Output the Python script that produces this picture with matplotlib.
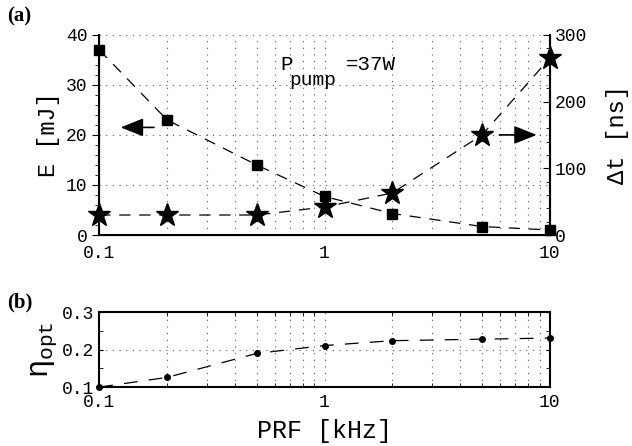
import matplotlib.pyplot as plt
from matplotlib.ticker import MultipleLocator, LogLocator, NullFormatter

mono = "Liberation Mono"
plt.rcParams['font.family'] = mono
plt.rcParams['mathtext.fontset'] = 'custom'
plt.rcParams['mathtext.rm'] = mono
plt.rcParams['mathtext.it'] = mono

prf = [0.1, 0.2, 0.5, 1, 2, 5, 10]
energy = [37, 23, 14, 7.7, 4.3, 1.7, 1.0]
dt = [30, 30, 30, 42, 63, 150, 265]
eta = [0.1, 0.126, 0.19, 0.211, 0.224, 0.228, 0.231]

xticks = [0.1, 1, 10]
xlabels = ["0.1", "1", "10"]

grid_kw = dict(color="#555555", linestyle=(0, (1, 5)), linewidth=0.8)
arrow_kw = dict(arrowstyle="-|>,head_length=1.0,head_width=0.4",
                color="k", lw=1.2, mutation_scale=14)

fig = plt.figure(figsize=(6.32, 4.46), dpi=100)

# ---- panel (a)
ax = fig.add_axes([0.157, 0.473, 0.713, 0.449])
ax.set_xscale("log")
ax.set_xlim(0.1, 10)
ax.set_ylim(0, 40)
ax.plot(prf, energy, linestyle=(0, (9, 7)), color="k", lw=0.9,
        marker="s", ms=7, mfc="k", mec="k", zorder=3, clip_on=False)
ax.set_xticks(xticks)
ax.set_xticklabels(xlabels)
ax.xaxis.set_minor_locator(LogLocator(base=10, subs=range(2, 10)))
ax.xaxis.set_minor_formatter(NullFormatter())
ax.yaxis.set_major_locator(MultipleLocator(10))
ax.yaxis.set_minor_locator(MultipleLocator(2))
ax.tick_params(axis="y", which="major", direction="out", length=5, labelsize=13)
ax.tick_params(axis="y", which="minor", direction="out", length=3)
ax.tick_params(axis="x", which="both", direction="in", length=0, labelsize=13, pad=7)
ax.grid(True, which="major", axis="y", **grid_kw)
ax.grid(True, which="both", axis="x", **grid_kw)
ax.spines["top"].set_visible(False)
for s in ["left", "bottom", "right"]:
    ax.spines[s].set_linewidth(1.5)
ax.set_ylabel("E [mJ]", fontsize=17, labelpad=4)

ax2 = ax.twinx()
ax2.set_ylim(0, 300)
ax2.plot(prf, dt, linestyle=(0, (9, 7)), color="k", lw=0.9,
         marker="*", ms=17, mfc="k", mec="k", zorder=3, clip_on=False)
ax2.yaxis.set_major_locator(MultipleLocator(100))
ax2.yaxis.set_minor_locator(MultipleLocator(20))
ax2.tick_params(axis="y", which="major", direction="in", length=5, labelsize=13)
ax2.tick_params(axis="y", which="minor", direction="in", length=3)
ax2.spines["top"].set_visible(False)
ax2.spines["right"].set_linewidth(1.5)
ax2.set_ylabel("Δt [ns]", fontsize=17, labelpad=14)

# arrows pointing to the axis each curve belongs to
ax.annotate("", xy=(0.121, 21.5), xytext=(0.18, 21.5),
            arrowprops=arrow_kw, zorder=4)
ax2.annotate("", xy=(9.0, 150), xytext=(5.8, 150),
             arrowprops=arrow_kw, zorder=4)

ax.text(0.64, 33.0, "P", fontsize=15)
ax.text(0.70, 30.0, "pump", fontsize=14)
ax.text(1.25, 33.0, "=37W", fontsize=15)

fig.text(0.012, 0.952, "(a)", fontsize=15, fontweight="bold", family="Liberation Serif")

# ---- panel (b)
bx = fig.add_axes([0.157, 0.132, 0.713, 0.168])
bx.set_xscale("log")
bx.set_xlim(0.1, 10)
bx.set_ylim(0.1, 0.3)
bx.plot(prf, eta, linestyle=(0, (11, 9)), color="k", lw=0.9,
        marker="o", ms=4, mfc="k", mec="k", zorder=3, clip_on=False)
bx.set_xticks(xticks)
bx.set_xticklabels(xlabels)
bx.xaxis.set_minor_locator(LogLocator(base=10, subs=range(2, 10)))
bx.xaxis.set_minor_formatter(NullFormatter())
bx.set_yticks([0.1, 0.2, 0.3])
bx.set_yticklabels(["0.1", "0.2", "0.3"])
bx.yaxis.set_minor_locator(MultipleLocator(0.05))
bx.tick_params(axis="both", which="both", direction="in", length=3,
               top=True, right=True, labelsize=13)
bx.tick_params(axis="x", which="major", length=0, pad=5)
bx.grid(True, which="major", axis="y", **grid_kw)
bx.grid(True, which="both", axis="x", **grid_kw)
for s in bx.spines.values():
    s.set_linewidth(1.5)
bx.set_xlabel("PRF [kHz]", fontsize=18, labelpad=6)
bx.set_ylabel(r"$\eta_{\mathrm{opt}}$", fontsize=22, labelpad=2)

fig.text(0.012, 0.31, "(b)", fontsize=15, fontweight="bold", family="Liberation Serif")

fig.savefig("out.png", dpi=100)
